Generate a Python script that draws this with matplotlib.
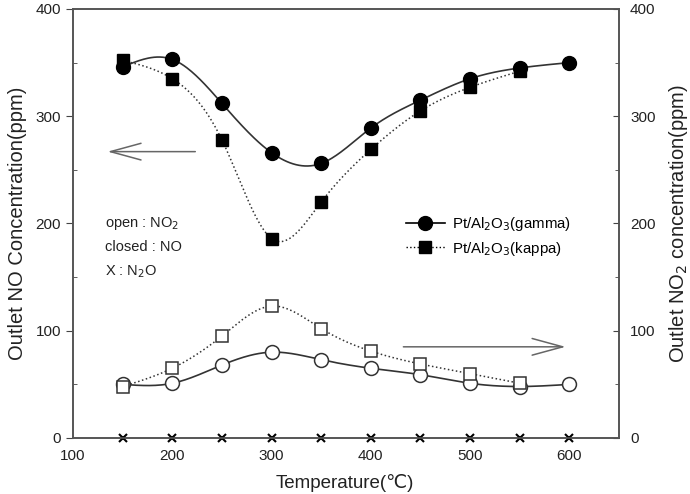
import numpy as np
import matplotlib
matplotlib.use("Agg")
import matplotlib.pyplot as plt

plt.rcParams['font.family'] = ['Liberation Sans', 'DejaVu Sans']

temp = [150, 200, 250, 300, 350, 400, 450, 500, 550, 600]
temp_k = [150, 200, 250, 300, 350, 400, 450, 500, 550]

no_gamma = [346, 353, 312, 266, 256, 289, 315, 335, 345, 350]
no_kappa = [352, 335, 278, 186, 220, 269, 305, 327, 342]
no2_gamma = [50, 51, 68, 80, 73, 65, 59, 51, 48, 50]
no2_kappa = [48, 65, 95, 123, 102, 81, 69, 60, 51]
n2o = [0, 0, 0, 0, 0, 0, 0, 0, 0, 0]


def spline(x, y, n=300):
    # natural cubic spline, just for the smooth look of the curves
    x = np.asarray(x, float)
    y = np.asarray(y, float)
    m = len(x)
    h = np.diff(x)
    A = np.zeros((m, m))
    b = np.zeros(m)
    A[0, 0] = A[-1, -1] = 1
    for i in range(1, m - 1):
        A[i, i - 1] = h[i - 1]
        A[i, i] = 2 * (h[i - 1] + h[i])
        A[i, i + 1] = h[i]
        b[i] = 6 * ((y[i + 1] - y[i]) / h[i] - (y[i] - y[i - 1]) / h[i - 1])
    M = np.linalg.solve(A, b)
    xs = np.linspace(x[0], x[-1], n)
    k = np.clip(np.searchsorted(x, xs) - 1, 0, m - 2)
    t = xs - x[k]
    hk = h[k]
    ys = (M[k] * (x[k + 1] - xs) ** 3 / (6 * hk) + M[k + 1] * t ** 3 / (6 * hk)
          + (y[k] / hk - M[k] * hk / 6) * (x[k + 1] - xs)
          + (y[k + 1] / hk - M[k + 1] * hk / 6) * t)
    return xs, ys


fig = plt.figure(figsize=(6.9, 4.94), dpi=100)
ax = fig.add_axes([0.1058, 0.1134, 0.7913, 0.8684])
ax2 = ax.twinx()

lc = '#333333'
xs, ys = spline(temp, no_gamma)
ax.plot(xs, ys, '-', color=lc, lw=1.2)
xs, ys = spline(temp_k, no_kappa)
ax.plot(xs, ys, ':', color=lc, lw=1.1)
xs, ys = spline(temp, no2_gamma)
ax.plot(xs, ys, '-', color=lc, lw=1.2)
xs, ys = spline(temp_k, no2_kappa)
ax.plot(xs, ys, ':', color=lc, lw=1.1)

ax.plot(temp, no_gamma, 'o', color='black', ms=10)
ax.plot(temp_k, no_kappa, 's', color='black', ms=8)
ax.plot(temp, no2_gamma, 'o', mfc='white', mec='#333333', mew=1.1, ms=10)
ax.plot(temp_k, no2_kappa, 's', mfc='white', mec='#333333', mew=1.1, ms=8)
ax.plot(temp, n2o, 'x', color='black', ms=6, mew=1.5, clip_on=False, zorder=5)

# legend
h1, = ax.plot([], [], '-o', color='black', ms=10, lw=1.2)
h2, = ax.plot([], [], ':s', color='black', ms=8, lw=1.0)
ax.legend([h1, h2], ['Pt/Al$_2$O$_3$(gamma)', 'Pt/Al$_2$O$_3$(kappa)'],
          loc='center left', bbox_to_anchor=(0.585, 0.47), frameon=False,
          fontsize=10.8, handlelength=2.6, labelspacing=0.45, handletextpad=0.5)

tx = 132
ax.text(tx, 200, 'open : NO$_2$', fontsize=10.5, color='#222222', va='center')
ax.text(tx, 178, 'closed : NO', fontsize=10.5, color='#222222', va='center')
ax.text(tx, 155, 'X : N$_2$O', fontsize=10.5, color='#222222', va='center')

# arrows
ax.annotate('', xy=(132, 267), xytext=(226, 267),
            arrowprops=dict(arrowstyle='->,head_length=2.2,head_width=0.6',
                            color='#666666', lw=1.1))
ax.annotate('', xy=(599, 85), xytext=(430, 85),
            arrowprops=dict(arrowstyle='->,head_length=2.2,head_width=0.6',
                            color='#666666', lw=1.1))

ax.set_xlim(100, 650)
ax.set_ylim(0, 400)
ax2.set_ylim(0, 400)
ax.set_xticks([100, 200, 300, 400, 500, 600])
ax.set_yticks([0, 100, 200, 300, 400])
ax.set_yticks([50, 150, 250, 350], minor=True)
ax2.set_yticks([0, 100, 200, 300, 400])
ax2.set_yticks([50, 150, 250, 350], minor=True)

ax.tick_params(axis='x', length=0, pad=8, labelsize=11, labelcolor='#222222')
ax.tick_params(axis='y', which='major', direction='out', length=5, labelsize=11,
               labelcolor='#222222', color='#444444')
ax.tick_params(axis='y', which='minor', direction='in', length=3, color='#444444')
ax2.tick_params(axis='y', which='major', direction='in', length=4, labelsize=11,
                labelcolor='#222222', color='#444444', pad=8)
ax2.tick_params(axis='y', which='minor', direction='in', length=3, color='#444444')

for a in (ax, ax2):
    for s in a.spines.values():
        s.set_color('#555555')
        s.set_linewidth(1.2)

ax.set_ylabel('Outlet NO Concentration(ppm)', fontsize=14.5, color='#222222', labelpad=6)
ax2.set_ylabel('Outlet NO$_2$ concentration(ppm)', fontsize=14.5, color='#222222', labelpad=8)
fig.text(0.5, 0.004, 'Temperature(℃)', ha='center', va='bottom', fontsize=13.5, color='#222222')

fig.savefig('out.png', dpi=100)
